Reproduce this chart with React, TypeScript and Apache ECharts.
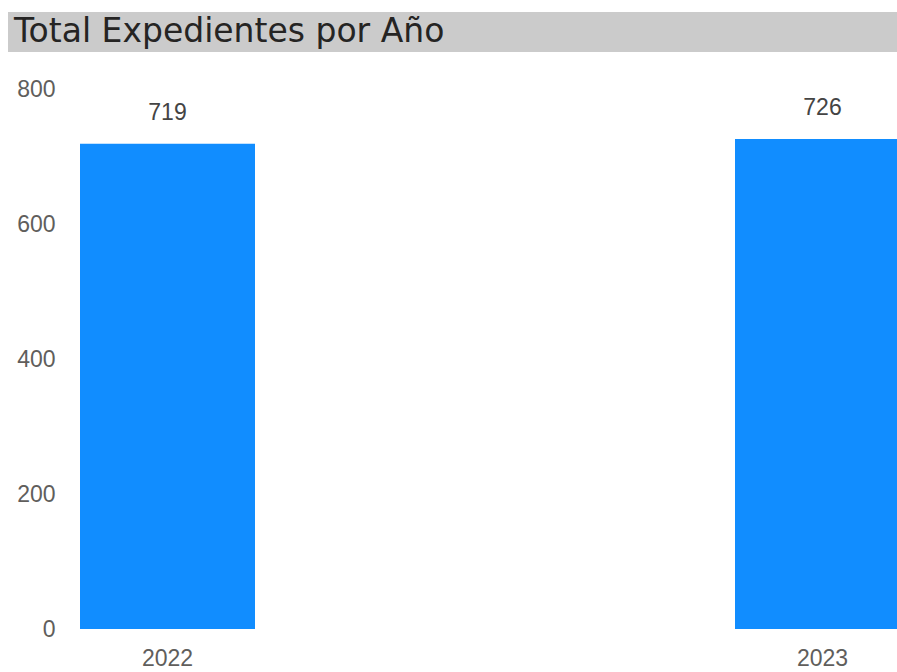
import React, { useEffect, useRef } from "react";
import * as echarts from "echarts";

const years = ["2022", "2023"];
const totals = [719, 726];
const yTicks = [0, 200, 400, 600, 800];

export default function App() {
  const ref = useRef<HTMLDivElement>(null);
  useEffect(() => {
    const chart = echarts.init(ref.current!, null, { renderer: "svg" });
    chart.setOption({
      animation: false,
      backgroundColor: "#ffffff",
      graphic: [
        {
          type: "rect",
          left: 8,
          top: 12,
          shape: { width: 889, height: 40 },
          style: { fill: "#cbcbcb" },
          z: 0,
        },
        {
          type: "text",
          left: 14,
          top: 14,
          style: {
            text: "Total Expedientes por Año",
            fill: "#252423",
            font: '33px "DejaVu Sans", sans-serif',
          },
          z: 1,
        },
      ],
      grid: { left: 167.5, right: 74.5, top: 89, bottom: 43, containLabel: false },
      xAxis: {
        type: "category",
        data: years,
        boundaryGap: false,
        axisLine: { show: false },
        axisTick: { show: false },
        axisLabel: {
          color: "#605e5c",
          fontSize: 23,
          fontFamily: "Liberation Sans, Arial, sans-serif",
          margin: 17,
        },
      },
      yAxis: {
        type: "value",
        min: yTicks[0],
        max: yTicks[yTicks.length - 1],
        interval: 200,
        splitLine: { show: false },
        axisLine: { show: false },
        axisTick: { show: false },
        axisLabel: {
          color: "#605e5c",
          fontSize: 23,
          fontFamily: "Liberation Sans, Arial, sans-serif",
          margin: 112,
        },
      },
      series: [
        {
          type: "bar",
          data: totals,
          barWidth: 175,
          clip: false,
          itemStyle: { color: "#118DFF" },
          label: {
            show: true,
            position: "top",
            distance: 20,
            color: "#444444",
            fontSize: 23,
            fontFamily: "Liberation Sans, Arial, sans-serif",
          },
        },
      ],
    });
    return () => chart.dispose();
  }, []);
  return <div ref={ref} style={{ width: 897, height: 672, position: "absolute", left: 0, top: 0 }} />;
}
